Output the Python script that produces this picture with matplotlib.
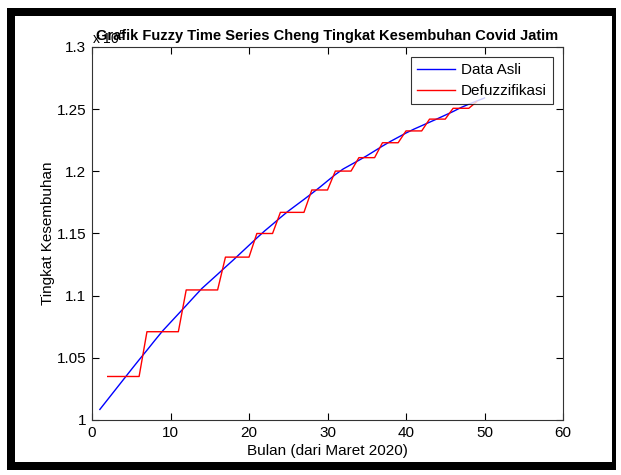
import matplotlib
matplotlib.use("Agg")
import matplotlib.pyplot as plt
from matplotlib.patches import Rectangle
from matplotlib.ticker import FuncFormatter, MultipleLocator

plt.rcParams['font.family'] = ['Liberation Sans', 'DejaVu Sans']

# Data (values in people; axis shows x 10^5)
x_asli = list(range(1, 51))
data_asli = [100850, 101650, 102450, 103250, 104050, 104840, 105610, 106400, 107170, 107850,
             108530, 109210, 109900, 110580, 111150, 111720, 112300, 112870, 113460, 114050,
             114640, 115210, 115740, 116280, 116800, 117270, 117740, 118220, 118710, 119230,
             119740, 120190, 120540, 120890, 121250, 121640, 122030, 122400, 122740, 123080,
             123390, 123670, 123950, 124230, 124520, 124810, 125130, 125400, 125650, 125900]

x_defuz = list(range(2, 50))
defuzzifikasi = [103500] * 5 + [107100] * 5 + [110460] * 5 + [113100] * 4 + [115000] * 3 \
    + [116700] * 4 + [118500] * 3 + [120020] * 3 + [121100] * 3 + [122300] * 3 \
    + [123250] * 3 + [124200] * 3 + [125070] * 3 + [125600]

title = "Grafik Fuzzy Time Series Cheng Tingkat Kesembuhan Covid Jatim"
xlabel = "Bulan (dari Maret 2020)"
ylabel = "Tingkat Kesembuhan"
legend_labels = ["Data Asli", "Defuzzifikasi"]

W, H = 621, 475
fig = plt.figure(figsize=(W / 100, H / 100), dpi=100)
fig.patch.set_facecolor('white')

# black frame around the figure
fig.patches.append(Rectangle((7 / W, (H - 470) / H), (616 - 7) / W, (470 - 8) / H,
                             transform=fig.transFigure, facecolor='black', edgecolor='none', zorder=-10))
fig.patches.append(Rectangle((15 / W, (H - 462) / H), (612 - 15) / W, (462 - 16) / H,
                             transform=fig.transFigure, facecolor='white', edgecolor='none', zorder=-9))

ax = fig.add_axes([92 / W, (H - 420) / H, (563 - 92) / W, (420 - 47) / H])
ax.set_zorder(5)
ax.set_facecolor('white')

ax.plot(x_asli, data_asli, color='#0000ff', lw=1.0, label=legend_labels[0])
ax.plot(x_defuz, defuzzifikasi, color='#ff0000', lw=1.0, label=legend_labels[1])

ax.set_xlim(0, 60)
ax.set_ylim(100000, 130000)
ax.xaxis.set_major_locator(MultipleLocator(10))
ax.yaxis.set_major_locator(MultipleLocator(5000))
ax.yaxis.set_major_formatter(FuncFormatter(lambda v, p: "%g" % round(v / 1e5, 4)))

ax.tick_params(direction='in', length=5, width=0.8, top=True, right=True,
               labelsize=11, pad=4, colors='black')
for s in ax.spines.values():
    s.set_linewidth(0.8)
    s.set_color('#333333')

ax.text(0.0, 1.0, r'x 10$^{5}$', transform=ax.transAxes, fontsize=10,
        ha='left', va='bottom', color='black')

ax.set_title(title, fontsize=10.5, fontweight='bold', pad=5)
ax.set_xlabel(xlabel, fontsize=11, labelpad=3)
ax.set_ylabel(ylabel, fontsize=11, labelpad=1)

leg = ax.legend(loc='upper right', fontsize=11, frameon=True, fancybox=False,
                edgecolor='black', borderaxespad=0.65, handlelength=2.5,
                borderpad=0.4, labelspacing=0.45, handletextpad=0.4)
leg.get_frame().set_linewidth(0.8)

fig.savefig("out.png", dpi=100, facecolor='white')
